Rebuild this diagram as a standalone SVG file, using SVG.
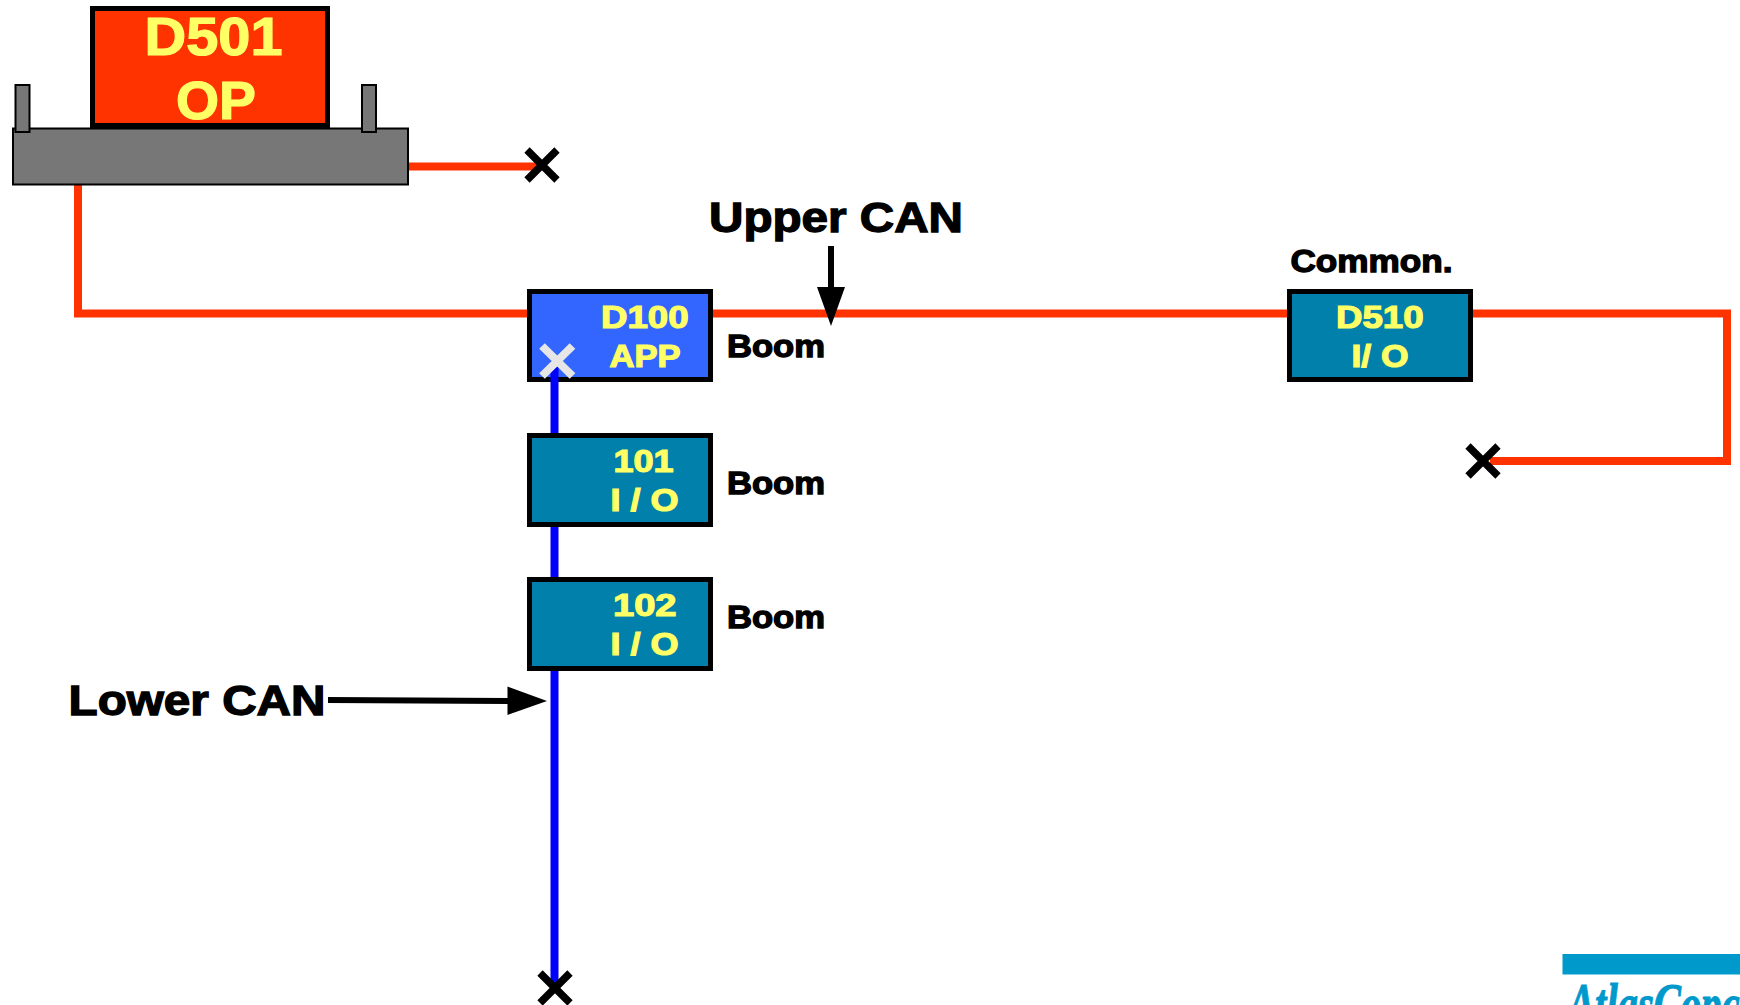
<svg xmlns="http://www.w3.org/2000/svg" width="1740" height="1005" viewBox="0 0 1740 1005">
<style>
text{font-family:"Liberation Sans",Arial,sans-serif;font-weight:700}
.box{stroke:#000;stroke-width:5}
.io{fill:#0080aa}
.yl{fill:#ffff66;stroke:#ffff66;stroke-width:1.2}
.lb{fill:#000;stroke:#000;stroke-width:1.3}
.gr{fill:#777;stroke:#000}
.red{fill:none;stroke:#ff3300;stroke-width:8}
.blue{fill:none;stroke:#0000ff;stroke-width:8}
.x{fill:none;stroke:#000;stroke-width:7.500}
</style>
<g id="connectors">
<path class="red" d="M409 166.500H540"/>
<path class="red" d="M78 185V313.500H530"/>
<path class="red" d="M710 313.500H1290"/>
<path class="red" d="M1470 313.500H1727V461H1490"/>
<path class="blue" d="M554.500 382V983"/>
<path d="M328 700L508 701" fill="none" stroke="#000" stroke-width="6"/>
<path d="M507.500 686.500L547 701L507.500 715Z" fill="#000"/>
<path d="M831 246V288" fill="none" stroke="#000" stroke-width="6"/>
<path d="M817 287H845L831 326Z" fill="#000"/>
</g>
<g id="D501">
<rect class="gr" x="13" y="128.500" width="395" height="56" stroke-width="2"/>
<rect x="92.500" y="8.500" width="235" height="117" fill="#ff3300" class="box"/>
<rect class="gr" x="15.500" y="85" width="14" height="47" stroke-width="2"/>
<rect class="gr" x="362" y="85" width="14" height="47" stroke-width="2"/>
<text class="yl" x="144.500" y="55" font-size="54" textLength="138" lengthAdjust="spacingAndGlyphs">D501</text>
<text class="yl" x="176" y="119" font-size="54" textLength="80" lengthAdjust="spacingAndGlyphs">OP</text>
</g>
<g id="D100">
<rect class="box" x="529.500" y="291.500" width="181" height="88" fill="#3366ff"/>
<text class="yl" x="601" y="327.500" font-size="31" textLength="87.500" lengthAdjust="spacingAndGlyphs">D100</text>
<text class="yl" x="609.500" y="366.500" font-size="31" textLength="71" lengthAdjust="spacingAndGlyphs">APP</text>
<path class="blue" d="M554.500 366V382"/>
<path d="M542 346L572.500 376M572.500 346L542 376" fill="none" stroke="#e6e6e6" stroke-width="8"/>
</g>
<g id="IO101">
<rect class="box io" x="529.500" y="435.500" width="181" height="89"/>
<text class="yl" x="613.500" y="471.500" font-size="31" textLength="60" lengthAdjust="spacingAndGlyphs">101</text>
<text class="yl" x="610.500" y="510.500" font-size="31" textLength="68" lengthAdjust="spacingAndGlyphs">I / O</text>
</g>
<g id="IO102">
<rect class="box io" x="529.500" y="579.500" width="181" height="89"/>
<text class="yl" x="613" y="616" font-size="31" textLength="63.500" lengthAdjust="spacingAndGlyphs">102</text>
<text class="yl" x="610.500" y="655" font-size="31" textLength="68" lengthAdjust="spacingAndGlyphs">I / O</text>
</g>
<g id="D510">
<rect class="box io" x="1289.500" y="291.500" width="181" height="88"/>
<text class="yl" x="1336" y="328" font-size="31" textLength="87.500" lengthAdjust="spacingAndGlyphs">D510</text>
<text class="yl" x="1351.500" y="367" font-size="31" textLength="57" lengthAdjust="spacingAndGlyphs">I/ O</text>
</g>
<g id="terminators">
<path class="x" d="M527 150L557 180M557 150L527 180"/>
<path class="x" d="M1468 446L1498 476M1498 446L1468 476"/>
<path class="x" d="M540 973L570 1003M570 973L540 1003"/>
</g>
<g id="labels">
<text class="lb" x="709" y="231.500" font-size="42" textLength="254" lengthAdjust="spacingAndGlyphs">Upper CAN</text>
<text class="lb" x="68.500" y="715" font-size="42" textLength="257" lengthAdjust="spacingAndGlyphs">Lower CAN</text>
<text class="lb" x="1290.500" y="271.500" font-size="31" textLength="162" lengthAdjust="spacingAndGlyphs">Common.</text>
<text class="lb" x="727" y="357" font-size="31" textLength="98" lengthAdjust="spacingAndGlyphs">Boom</text>
<text class="lb" x="727" y="493.500" font-size="31" textLength="98" lengthAdjust="spacingAndGlyphs">Boom</text>
<text class="lb" x="727" y="628" font-size="31" textLength="98" lengthAdjust="spacingAndGlyphs">Boom</text>
</g>
<g id="logo">
<rect x="1562.500" y="954" width="177.500" height="20.500" fill="#0099cc"/>
<text x="1568" y="1023" font-size="56" fill="#0099cc" stroke="#0099cc" stroke-width="1" font-style="italic" style="font-family:'Liberation Serif',serif" textLength="192" lengthAdjust="spacingAndGlyphs">AtlasCopco</text>
</g>
</svg>
